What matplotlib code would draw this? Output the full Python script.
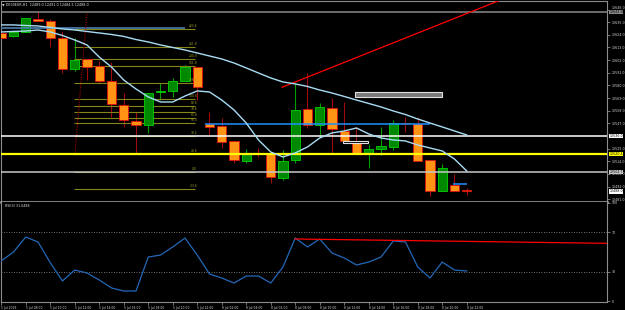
import numpy as np
import matplotlib.pyplot as plt
from matplotlib.patches import Rectangle
from matplotlib.transforms import blended_transform_factory

# DE30EUR H1 candles
opens = [12625.6, 12623.0, 12626.5, 12637.8, 12636.0, 12621.3, 12594.3, 12603.0, 12596.9, 12583.9,
         12563.0, 12549.1, 12545.6, 12574.3, 12575.2, 12583.9, 12596.0, 12546.5, 12544.7, 12531.7,
         12514.3, 12521.3, 12520.4, 12499.5, 12515.2, 12559.5, 12545.6, 12560.4, 12540.4, 12531.7,
         12521.3, 12524.7, 12526.5, 12547.3, 12546.5, 12515.2, 12488.2, 12493.4, 12489.0]
highs = [12627.3, 12628.2, 12638.6, 12643.9, 12637.8, 12627.3, 12621.3, 12603.0, 12601.3, 12600.4,
         12573.4, 12556.9, 12573.4, 12582.1, 12586.5, 12597.8, 12596.0, 12556.9, 12551.7, 12531.7,
         12524.7, 12525.6, 12520.4, 12523.9, 12582.1, 12590.8, 12564.7, 12569.1, 12565.6, 12543.9,
         12529.1, 12543.9, 12550.0, 12552.6, 12552.6, 12515.2, 12511.7, 12503.0, 12491.0]
lows = [12619.5, 12622.1, 12626.5, 12636.0, 12613.4, 12590.8, 12592.6, 12584.7, 12582.1, 12552.6,
        12543.9, 12521.3, 12538.7, 12567.3, 12570.0, 12583.9, 12567.3, 12536.9, 12525.6, 12512.6,
        12512.6, 12517.8, 12495.2, 12497.8, 12512.6, 12543.0, 12535.2, 12521.3, 12531.7, 12521.3,
        12508.2, 12519.5, 12523.9, 12539.5, 12514.3, 12483.9, 12488.2, 12488.2, 12484.5]
closes = [12621.3, 12626.5, 12638.6, 12636.0, 12621.3, 12594.3, 12602.1, 12596.0, 12583.9, 12563.9,
          12550.0, 12545.6, 12573.4, 12575.2, 12583.9, 12596.0, 12578.6, 12543.9, 12530.8, 12515.2,
          12520.4, 12520.4, 12500.4, 12514.3, 12558.7, 12545.6, 12561.3, 12542.1, 12531.7, 12521.3,
          12524.7, 12527.3, 12547.3, 12546.9, 12514.3, 12488.2, 12508.2, 12488.2, 12488.0]

ma_fast = [12626.5, 12626.9, 12627.3, 12628.2, 12626.5, 12623.4, 12619.5, 12615.2, 12604.7, 12596.0,
           12584.7, 12576.9, 12570.0, 12565.6, 12565.6, 12570.8, 12575.2, 12574.3, 12567.3, 12558.7,
           12547.3, 12532.6, 12522.1, 12517.8, 12521.3, 12526.5, 12534.3, 12538.7, 12540.4, 12543.0,
           12537.8, 12534.3, 12532.6, 12531.7, 12528.2, 12525.6, 12523.0, 12516.0, 12505.6]
ma_slow = [12632.6, 12632.6, 12632.1, 12631.7, 12630.4, 12629.1, 12628.2, 12626.9, 12625.6, 12624.3,
           12622.6, 12619.9, 12617.8, 12615.2, 12613.0, 12610.8, 12608.2, 12605.6, 12603.0, 12599.5,
           12595.2, 12590.8, 12586.5, 12583.0, 12581.3, 12579.1, 12576.0, 12573.4, 12570.4, 12567.3,
           12564.3, 12561.3, 12557.8, 12554.7, 12550.8, 12547.3, 12543.9, 12540.4, 12536.9]

rsi = [40.9, 50.0, 65.2, 60.2, 39.1, 20.6, 31.7, 28.7, 21.6, 13.5,
       10.4, 10.4, 44.9, 46.9, 55.1, 64.2, 46.9, 27.7, 23.6, 18.5,
       25.6, 25.6, 18.5, 34.8, 64.2, 55.1, 63.2, 49.0, 43.9, 36.8,
       39.8, 44.9, 61.2, 60.2, 34.8, 23.6, 39.8, 31.7, 30.7]

time_labels = ['5 Jul 2019', '5 Jul 08:00', '5 Jul 10:00', '5 Jul 12:00', '5 Jul 14:00',
               '5 Jul 16:00', '5 Jul 18:00', '5 Jul 20:00', '5 Jul 22:00', '8 Jul 02:00',
               '8 Jul 04:00', '8 Jul 06:00', '8 Jul 08:00', '8 Jul 10:00', '8 Jul 12:00',
               '8 Jul 14:00', '8 Jul 16:00', '8 Jul 18:00', '8 Jul 20:00', '8 Jul 22:00']

# the 12536.0 tick sits under the white line's price box, so it is left out
price_ticks = [12481.0 + 11.0 * k for k in range(16) if k != 5]

fib_levels = [12629.1, 12613.4, 12603.0, 12596.9, 12582.1, 12568.2, 12562.1,
              12556.9, 12551.7, 12547.3, 12536.0, 12520.4, 12504.7, 12490.0]
fib_names = ['423.6', '261.8', '200.0', '161.8', '138.2', '100.0', '88.6',
             '78.6', '61.8', '50.0', '38.2', '23.6', '0.0', '-23.6']

# horizontal levels (price, colour)
hlines = [(12643.9, '#8a8a8a'), (12536.0, '#ffffff'), (12520.4, '#ffff00'), (12504.7, '#c8c8c8')]
last_price = 12488.0

opens, highs, lows, closes = map(np.array, (opens, highs, lows, closes))
x = np.arange(len(opens))
up = closes >= opens

fig = plt.figure(figsize=(6.25, 3.10), dpi=100, facecolor='black')
ax = fig.add_axes([1 / 625, 108.3 / 310, 606 / 625, 200.7 / 310], facecolor='black')
ax2 = fig.add_axes([1 / 625, 7.7 / 310, 606 / 625, 100.3 / 310], facecolor='black')

xlim = (-0.02, 49.45)
ax.set_xlim(*xlim)
ax.set_ylim(12478.9, 12653.4)

# candles
ax.vlines(x, lows, highs, colors=np.where(up, '#00a000', '#a00c0c'), lw=0.8, zorder=2)
body = np.maximum(np.abs(closes - opens), 0.4)
ax.bar(x, body, bottom=np.minimum(opens, closes), width=0.76,
       color=np.where(up, '#008800', '#ff9414'),
       edgecolor=np.where(up, '#00d400', '#e01010'), linewidth=0.6, zorder=3)

# fibonacci levels
for lv, nm in zip(fib_levels, fib_names):
    ax.hlines(lv, 5.94, 15.8, color='#85851a', lw=0.8, zorder=2.5)
    ax.text(16.0, lv + 0.6, nm, color='#a0a020', fontsize=2.2, ha='right', va='bottom', zorder=4)

ax.hlines(12629.5, -0.1, 15.0, color='#4a7fb0', lw=1.2, zorder=4)
ax.plot([7.0, 6.02], [12643.9, 12521.3], color='#8b0000', lw=0.9, ls=(0, (1, 1)), zorder=4)

for p, c in hlines:
    ax.axhline(p, color=c, lw=1.6 if c == '#ffff00' else 1.1, zorder=5)

ax.hlines(12546.5, 16.6, 35.0, color='#1e90ff', lw=1.1, zorder=5)
ax.hlines(12494.0, 36.9, 38.0, color='#1e90ff', lw=1.1, zorder=5)

# trendline
ax.plot([22.92, 45.0], [12578.4, 12672.3], color='#ff0000', lw=0.9, zorder=5)

ax.add_patch(Rectangle((28.88, 12570.0), 7.1, 4.3, facecolor='#7a7a7a', edgecolor='#e0e0e0', lw=0.8, zorder=5))
ax.add_patch(Rectangle((27.9, 12530.0), 2.04, 1.7, facecolor='black', edgecolor='#e0e0e0', lw=0.8, zorder=5))

# moving averages
ax.plot(x, ma_slow, color='#a8dcf4', lw=1.0, zorder=6)
ax.plot(x, ma_fast, color='#a8dcf4', lw=1.0, zorder=6)

# price axis
ax.yaxis.tick_right()
ax.set_yticks(price_ticks)
ax.set_yticklabels([f'{t:.1f}' for t in price_ticks])
ax.tick_params(axis='y', color='#a0a0a0', labelcolor='#d8d8d8', labelsize=2.3, length=2, width=0.5, pad=1.2)
ax.get_yticklabels()[-1].set_va('bottom')   # keep clear of the top line's box
ax.set_xticks([])

bt = blended_transform_factory(ax.transAxes, ax.transData)
for p, c in hlines + [(last_price, '#ffffff')]:
    ax.text(1.004, p, f'{p:.1f}', transform=bt, fontsize=2.3, color='black', va='center', ha='left',
            bbox=dict(boxstyle='square,pad=0.12', fc=c, ec='none'), clip_on=False, zorder=10)

for s in ax.spines.values():
    s.set_color('#8c8c8c')
    s.set_linewidth(0.8)
ax.spines['bottom'].set_color('#a8a8a8')
ax.spines['bottom'].set_linewidth(1.8)

fig.text(2 / 625, 1 - 4.5 / 310, '▼ DE30EUR,H1  12489.0 12491.0 12484.5 12488.0',
         color='#e0e0e0', fontsize=2.4, va='center', ha='left')

# RSI window
ax2.set_xlim(*xlim)
ax2.set_ylim(-1.07, 100.76)
ax2.plot(x, rsi, color='#2468b8', lw=0.9, zorder=3)
ax2.axhline(70, color='#9a9a9a', lw=0.6, ls=(0, (1, 2)))
ax2.axhline(30, color='#9a9a9a', lw=0.6, ls=(0, (1, 2)))
ax2.plot([23.98, 49.45], [63.2, 58.8], color='#ff0000', lw=0.9, zorder=4)
ax2.text(0.3, 98.5, 'RSI(3) 31.0488', color='#e0e0e0', fontsize=2.3, va='top', ha='left')

ax2.yaxis.tick_right()
ax2.set_yticks([0, 30, 70, 100])
ax2.set_yticklabels(['0', '30', '70', '100'])
ax2.tick_params(axis='y', color='#a0a0a0', labelcolor='#d8d8d8', labelsize=2.3, length=2, width=0.5, pad=1.2)
ax2.set_xticks(np.arange(0, len(opens), 2))
ax2.set_xticklabels(time_labels)
ax2.tick_params(axis='x', color='#a0a0a0', labelcolor='#d8d8d8', labelsize=2.2, length=2, width=0.5, pad=0.8)
for lab in ax2.get_xticklabels():
    lab.set_ha('left')

for s in ax2.spines.values():
    s.set_color('#8c8c8c')
    s.set_linewidth(0.8)
ax2.spines['top'].set_visible(False)

fig.savefig('out.png', dpi=100, facecolor='black')
